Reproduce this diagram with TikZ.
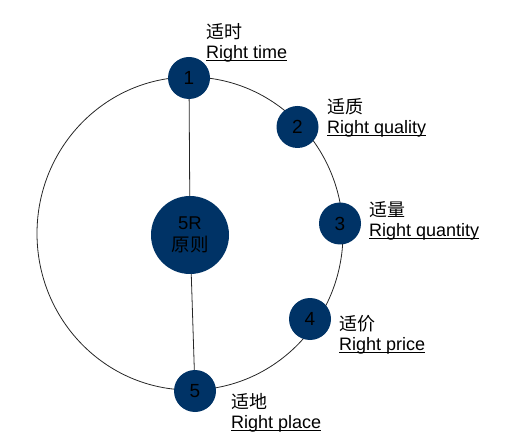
\documentclass[tikz,border=0pt]{standalone}
\usepackage{fontspec}
\setmainfont{Liberation Sans}
\newfontfamily\cjk{Noto Sans CJK SC}
\definecolor{navy}{RGB}{0,51,102}
\newcommand\uln[1]{\setbox0\hbox{#1}\rlap{\rule[-2pt]{\wd0}{0.9pt}}\box0}

\begin{document}
\begin{tikzpicture}[x=1pt,y=-1pt,
  dot/.style={circle, fill=navy, minimum size=42pt, inner sep=0pt, font=\fontsize{19}{20}\selectfont},
  hub/.style={circle, fill=navy, minimum size=78pt, inner sep=0pt, align=center, font=\fontsize{18.5}{22}\selectfont},
  tag/.style={anchor=west, align=left, inner sep=0pt, font=\fontsize{18}{20}\selectfont}]
  \useasboundingbox (0,0) rectangle (516,435);
  \draw[line width=0.8pt, black!85] (190,233.5) ellipse [x radius=153, y radius=156.5];
  \node[hub] (hub) at (190,235) {5R\\\cjk 原则};
  \node[dot] (n1) at (189,78) {1};
  \node[dot] (n2) at (297.5,127) {2};
  \node[dot] (n3) at (340,223.5) {3};
  \node[dot] (n4) at (310,319) {4};
  \node[dot] (n5) at (195,391) {5};
  \draw[line width=0.8pt, black!85] (n1) -- (hub);
  \draw[line width=0.8pt, black!85] (hub) -- (n5);
  \node[tag] (t1) at (206,43) {{\cjk 适时}\\\uln{Right time}};
  \node[tag] (t2) at (327,118) {{\cjk 适质}\\\uln{Right quality}};
  \node[tag] (t3) at (369,221) {{\cjk 适量}\\\uln{Right quantity}};
  \node[tag] (t4) at (339,335) {{\cjk 适价}\\\uln{Right price}};
  \node[tag] (t5) at (231,413) {{\cjk 适地}\\\uln{Right place}};
\end{tikzpicture}
\end{document}
